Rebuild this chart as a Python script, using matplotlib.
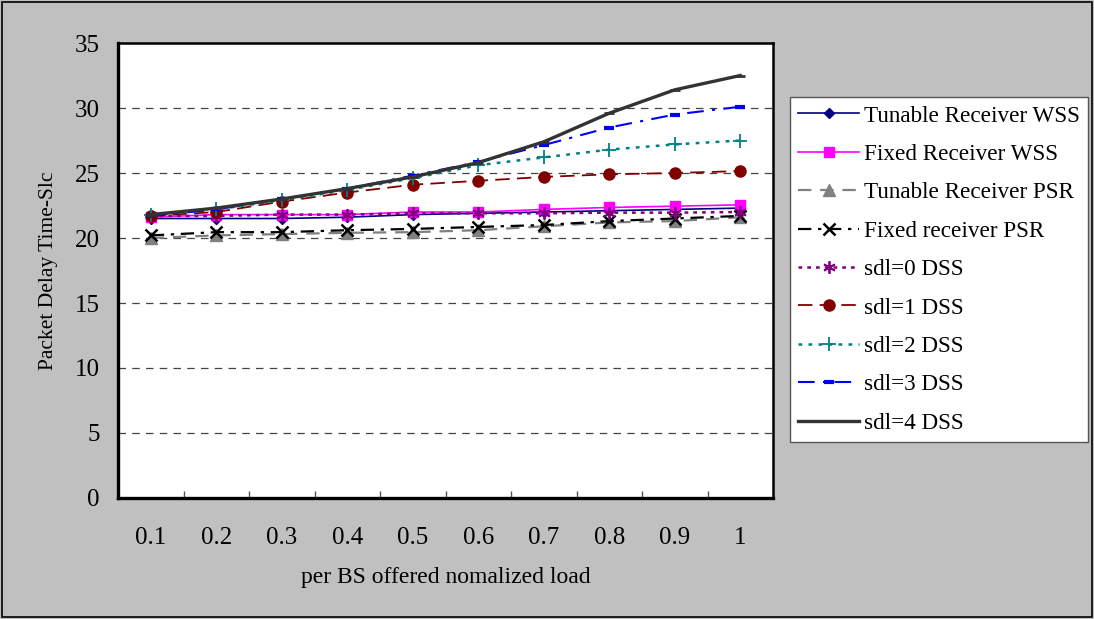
import matplotlib
matplotlib.use("Agg")
import matplotlib.pyplot as plt
from matplotlib.patches import Rectangle

plt.rcParams['font.family'] = ['Liberation Serif', 'DejaVu Serif']

loads = ['0.1', '0.2', '0.3', '0.4', '0.5', '0.6', '0.7', '0.8', '0.9', '1']

tunable_wss = [21.5, 21.5, 21.5, 21.6, 21.8, 21.9, 22.0, 22.1, 22.2, 22.3]
fixed_wss = [21.6, 21.8, 21.8, 21.8, 22.0, 22.0, 22.2, 22.35, 22.45, 22.55]
tunable_psr = [20.0, 20.2, 20.3, 20.4, 20.45, 20.6, 20.9, 21.2, 21.3, 21.6]
fixed_psr = [20.2, 20.45, 20.45, 20.6, 20.7, 20.85, 21.0, 21.3, 21.5, 21.7]
sdl0 = [21.7, 21.7, 21.8, 21.8, 21.9, 21.9, 21.9, 21.95, 21.95, 22.0]
sdl1 = [21.7, 22.0, 22.8, 23.5, 24.1, 24.4, 24.7, 24.9, 25.0, 25.15]
sdl2 = [21.8, 22.2, 22.9, 23.7, 24.6, 25.6, 26.2, 26.8, 27.2, 27.5]
sdl3 = [21.7, 22.2, 23.0, 23.8, 24.8, 25.85, 27.15, 28.5, 29.5, 30.1]
sdl4 = [21.8, 22.3, 23.0, 23.8, 24.7, 25.8, 27.4, 29.6, 31.4, 32.5]

fig = plt.figure(figsize=(10.94, 6.19), dpi=100, facecolor='#C0C0C0')
fig.patches.append(Rectangle((0.002, 0.003), 0.996, 0.993, transform=fig.transFigure,
                             fill=False, edgecolor='black', linewidth=1.2))
ax = fig.add_axes([0.1079, 0.1955, 0.5987, 0.735])
ax.set_facecolor('white')

x = range(len(loads))
ax.plot(x, tunable_wss, color='#000080', lw=1.2, marker='D', ms=5, label='Tunable Receiver WSS')
ax.plot(x, fixed_wss, color='#FF00FF', lw=1.2, marker='s', ms=7, label='Fixed Receiver WSS')
ax.plot(x, tunable_psr, color='#808080', lw=1.6, ls=(0, (6, 4)), marker='^', ms=8, label='Tunable Receiver PSR')
ax.plot(x, fixed_psr, color='black', lw=1.6, ls=(0, (6, 3, 1.5, 3)), marker='x', ms=9, mew=1.8,
        label='Fixed receiver PSR')
ax.plot(x, sdl0, color='#800080', lw=1.8, ls=(0, (1.5, 2)), marker=(6, 2, 0), ms=9, mew=1.3, label='sdl=0 DSS')
ax.plot(x, sdl1, color='#800000', lw=1.3, ls=(0, (8, 4)), marker='o', ms=8, label='sdl=1 DSS')
ax.plot(x, sdl2, color='#008080', lw=1.8, ls=(0, (1.5, 2.5)), marker='+', ms=10, mew=1.3, label='sdl=2 DSS')
ax.plot(x, sdl3, color='#0000FF', lw=1.5, ls=(0, (8, 4, 1.5, 4)), marker='_', ms=7, mew=3, label='sdl=3 DSS')
ax.plot(x, sdl4, color='#333333', lw=2.4, marker='_', ms=7, mew=2, label='sdl=4 DSS')

ax.set_xlim(-0.5, len(loads) - 0.5)
ax.set_ylim(0, 35)
ax.set_yticks(range(0, 36, 5))
ax.set_xticks(list(x))
ax.set_xticklabels(loads)
ax.set_xticks([i + 0.5 for i in range(len(loads) - 1)], minor=True)
ax.tick_params(axis='x', which='major', length=0, pad=21, labelsize=18)
ax.tick_params(axis='x', which='minor', direction='in', length=5, width=1, color='#555555')
ax.tick_params(axis='y', length=0, pad=13, labelsize=18)
for v in range(5, 35, 5):
    ax.axhline(v, color='#444444', lw=0.9, ls=(0, (6, 5)), zorder=0)

for side in ['left', 'bottom']:
    ax.spines[side].set_linewidth(2.4)
for side in ['top', 'right']:
    ax.spines[side].set_linewidth(1.8)

ax.set_xlabel('per BS offered nomalized load', fontsize=17, labelpad=13)
ax.set_ylabel('Packet Delay Time-Slc', fontsize=15.5, labelpad=12)

leg = fig.legend(loc='upper left', bbox_to_anchor=(0.722, 0.843), fontsize=16.7,
                 frameon=True, fancybox=False, edgecolor='#555555', facecolor='white',
                 framealpha=1, labelspacing=0.74, handlelength=2.65, handletextpad=0.2,
                 borderpad=0.35, borderaxespad=0)
leg.get_frame().set_linewidth(1.0)

fig.savefig('out.png', dpi=100, facecolor=fig.get_facecolor())
